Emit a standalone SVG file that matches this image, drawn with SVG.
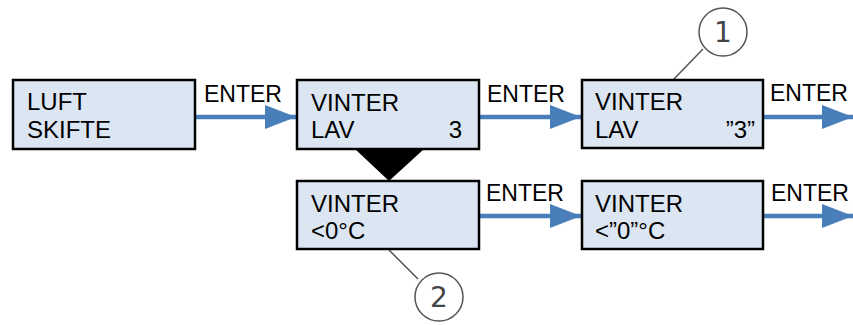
<svg xmlns="http://www.w3.org/2000/svg" width="853" height="325" viewBox="0 0 853 325">
<style>
.box{fill:#dce6f2;stroke:#000;stroke-width:2.5}
.t{font-family:"Liberation Sans",Arial,sans-serif;font-size:24px;fill:#000}
.lbl{font-family:"Liberation Sans",Arial,sans-serif;font-size:23px;fill:#000}
.conn{stroke:#4a7ebb;stroke-width:4.5;fill:none;marker-end:url(#ah)}
.call{stroke:#555;stroke-width:1.5;fill:none}
.circ{fill:#fff;stroke:#555;stroke-width:1.5}
.num{font-family:"DejaVu Sans",sans-serif;font-size:28px;fill:#444;text-anchor:middle}
</style>
<defs>
<marker id="ah" markerUnits="userSpaceOnUse" markerWidth="32" markerHeight="24" refX="31" refY="12" orient="auto">
<path d="M0,0 L31,12 L0,24 Z" fill="#4a7ebb"/>
</marker>
</defs>
<g id="connectors">
<line class="conn" x1="195" y1="117" x2="296" y2="117"/>
<line class="conn" x1="479" y1="117" x2="581" y2="117"/>
<line class="conn" x1="763" y1="117" x2="853" y2="117"/>
<line class="conn" x1="479" y1="216" x2="581" y2="216"/>
<line class="conn" x1="763" y1="216" x2="853" y2="216"/>
<text class="lbl" x="204" y="102">ENTER</text>
<text class="lbl" x="487" y="102">ENTER</text>
<text class="lbl" x="770" y="101">ENTER</text>
<text class="lbl" x="486" y="201">ENTER</text>
<text class="lbl" x="771" y="201">ENTER</text>
<polygon points="355,149 424,149 389,181" fill="#000"/>
<line class="call" x1="703" y1="49" x2="673" y2="80"/>
<line class="call" x1="389" y1="250" x2="418" y2="279"/>
</g>
<g id="n1">
<rect class="box" x="13" y="80" width="182" height="69"/>
<text class="t" x="27" y="110">LUFT</text>
<text class="t" x="27" y="138">SKIFTE</text>
</g>
<g id="n2">
<rect class="box" x="297" y="80" width="182" height="69"/>
<text class="t" x="311" y="111">VINTER</text>
<text class="t" x="311" y="138">LAV</text>
<text class="t" x="462" y="138" text-anchor="end">3</text>
</g>
<g id="n3">
<rect class="box" x="582" y="80" width="181" height="68"/>
<text class="t" x="595" y="110">VINTER</text>
<text class="t" x="595" y="138">LAV</text>
<text class="t" x="755" y="138" text-anchor="end">”3”</text>
</g>
<g id="n4">
<rect class="box" x="297" y="181" width="182" height="68"/>
<text class="t" x="311" y="212">VINTER</text>
<text class="t" x="311" y="239">&lt;0°C</text>
</g>
<g id="n5">
<rect class="box" x="582" y="181" width="181" height="68"/>
<text class="t" x="595" y="212">VINTER</text>
<text class="t" x="595" y="239">&lt;”0”°C</text>
</g>
<g id="callout1">
<circle class="circ" cx="723" cy="32" r="24"/>
<text class="num" x="723" y="42">1</text>
</g>
<g id="callout2">
<circle class="circ" cx="439" cy="297" r="24"/>
<text class="num" x="439" y="307">2</text>
</g>
</svg>
